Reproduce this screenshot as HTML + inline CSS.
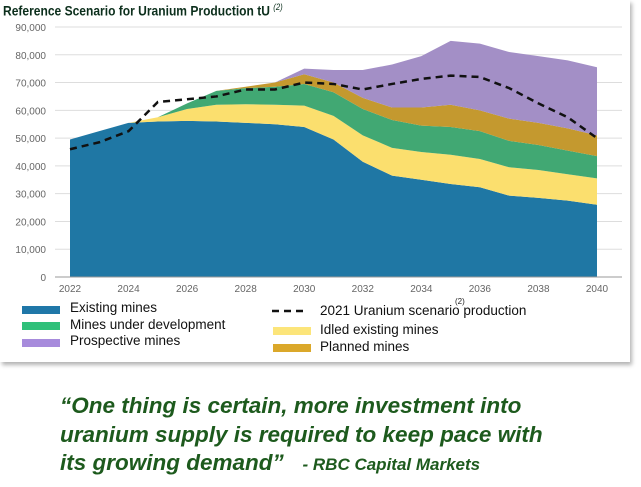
<!DOCTYPE html>
<html><head><meta charset="utf-8"><style>
body{margin:0;width:641px;height:487px;background:#fff;font-family:"Liberation Sans",sans-serif;position:relative;overflow:hidden}
.card{position:absolute;left:0;top:0;width:630px;height:362px;background:#fff;box-shadow:2px 3px 4px rgba(0,0,0,0.3)}
.title{position:absolute;left:3px;top:2px;font-weight:bold;font-size:14px;color:#0c2f1c;transform:scaleX(0.86);transform-origin:left;white-space:nowrap}
.title sup{font-weight:normal;font-style:italic;font-size:9px}
.lg{position:absolute;font-size:13.5px;color:#111;white-space:nowrap}
.sw{position:absolute;width:38px;height:8px}
.quote{position:absolute;left:60px;top:392px;font-size:22.5px;font-weight:bold;font-style:italic;color:#1d5a1d;line-height:28.5px;white-space:nowrap}
.quote span{font-size:17px}
</style></head><body>
<div class="card"></div>
<div class="title">Reference Scenario for Uranium Production tU <sup>(2)</sup></div>
<svg id="chart" width="641" height="300" style="position:absolute;left:0;top:0"></svg>
<div class="sw" style="left:22px;top:306px;background:#1f77a8"></div>
<div class="lg" style="left:70px;top:300px">Existing mines</div>
<div class="sw" style="left:22px;top:322px;background:#2fc07a"></div>
<div class="lg" style="left:70px;top:317px">Mines under development</div>
<div class="sw" style="left:22px;top:339px;background:#a78bdc"></div>
<div class="lg" style="left:70px;top:333px">Prospective mines</div>
<svg style="position:absolute;left:272px;top:308px" width="40" height="6"><line x1="0" y1="3" x2="36" y2="3" stroke="#111" stroke-width="2.5" stroke-dasharray="7,5"/></svg>
<div class="lg" style="left:320px;top:303px">2021 Uranium scenario production</div>
<div style="position:absolute;left:455px;top:297px;font-size:8px;color:#222">(2)</div>
<div class="sw" style="left:273px;top:327px;background:#fce57a"></div>
<div class="lg" style="left:320px;top:322px">Idled existing mines</div>
<div class="sw" style="left:273px;top:344px;background:#dba82a"></div>
<div class="lg" style="left:320px;top:339px">Planned mines</div>
<div class="quote">“One thing is certain, more investment into<br>uranium supply is required to keep pace with<br>its growing demand”&nbsp;&nbsp; <span>- RBC Capital Markets</span></div>
<script>
const years=[2022,2023,2024,2025,2026,2027,2028,2029,2030,2031,2032,2033,2034,2035,2036,2037,2038,2039,2040];
const existing=[49.5,52.5,55.5,56,56.2,56,55.5,55,54,49.5,41.5,36.5,35,33.5,32.3,29.3,28.5,27.5,26];
const idled=[0,0,0,1.5,4.3,6,6.7,7,7.7,8.5,9.5,10,10,10.5,10.2,10.2,10,9.5,9.5];
const development=[0,0,0,0,2,5,5.8,6.5,7.8,8.5,9.5,10,9.5,10,10,9.5,9,8.5,8];
const planned=[0,0,0,0,0,0,0.5,1.5,3.5,3.5,4,4.5,6.5,8,7.5,8,8,8,7.5];
const prospective=[0,0,0,0,0,0,0,0,2,4.5,10,15.5,18.5,23,24,24,24,24.5,24.5];
const scenario=[46,48.5,52.5,63,64,65,67.5,67.5,70,69.5,67.5,69.5,71.3,72.5,72,68,62.5,57.5,50];
const yTicks=[0,10,20,30,40,50,60,70,80,90];
const xTicks=[2022,2024,2026,2028,2030,2032,2034,2036,2038,2040];
const NS="http://www.w3.org/2000/svg",svg=document.getElementById('chart');
const x=y=>70+(y-2022)*(597-70)/18, yv=v=>277-v*250/90;
function mk(t,a){const e=document.createElementNS(NS,t);for(const k in a)e.setAttribute(k,a[k]);svg.appendChild(e);return e;}
yTicks.forEach(t=>{const g=mk('line',{x1:55,x2:622,y1:yv(t),y2:yv(t),stroke:t?'#ddd':'#aaa','stroke-width':1});

const l=mk('text',{x:46,y:yv(t)+4,'text-anchor':'end','font-size':10,fill:'#666'});l.textContent=t?(t*1000).toLocaleString('en-US'):'0';
});
xTicks.forEach(t=>{const l=mk('text',{x:x(t),y:292,'text-anchor':'middle','font-size':10,fill:'#666'});l.textContent=t;
});
const series=[['existing',existing,'#1f77a4'],['idled',idled,'#fbdf6e'],['development',development,'#41a873'],['planned',planned,'#c4992f'],['prospective',prospective,'#a38fc6']];
let base=years.map(()=>0);
series.forEach(([n,d,c])=>{const top=base.map((b,i)=>b+d[i]);
let p=years.map((y,i)=>x(y)+','+yv(top[i])).join(' ')+' '+years.map((y,i)=>x(y)+','+yv(base[i])).reverse().join(' ');
const e=mk('polygon',{points:p,fill:c});base=top;});
// move prospective behind? keep order; draw axis line
mk('line',{x1:55,x2:622,y1:yv(0),y2:yv(0),stroke:'#999'});
const ln=mk('polyline',{points:years.map((y,i)=>x(y)+','+yv(scenario[i])).join(' '),fill:'none',stroke:'#111','stroke-width':2.5,'stroke-dasharray':'7,5'});


</script>
</body></html>
